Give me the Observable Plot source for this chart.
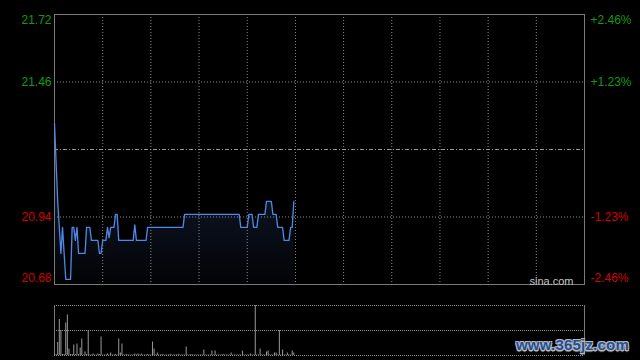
<!DOCTYPE html>
<html><head><meta charset="utf-8">
<script src="https://cdn.jsdelivr.net/npm/d3@7"></script>
<script src="https://cdn.jsdelivr.net/npm/@observablehq/plot@0.6"></script>
<style>
html,body{margin:0;padding:0;background:#000;}
#chart{position:relative;width:640px;height:360px;background:#000;overflow:hidden;font-family:"Liberation Sans",Arial,sans-serif;}
#chart svg{position:absolute;left:0;display:block;}
#wm{position:absolute;left:516px;top:336px;font:bold 15px "Liberation Sans",Arial,sans-serif;color:#1d4f9c;letter-spacing:0.2px;
  text-shadow:-1px -1px 0 #b8b8b8,1px -1px 0 #b8b8b8,-1px 1px 0 #b8b8b8,1px 1px 0 #b8b8b8,0 2px 1px #888;white-space:nowrap;}
</style></head>
<body><div id="chart"><div id="wm">www.365jz.com</div></div>
<script>
// ---- data ----
const prevClose = 21.20;
const priceTicks = [21.72, 21.46, 21.20, 20.94, 20.68];
const pctLabels = ["+2.46%", "+1.23%", "0.00%", "-1.23%", "-2.46%"];
const sessionMinutes = 330;
const gridMinutes = [30, 60, 90, 120, 150, 180, 210, 240, 270, 300];
const watermark = "sina.com";
// one price per minute from the open
const prices = [
  21.30,21.15,21.00,20.90,20.80,20.90,20.80,20.70,20.70,20.70,
  20.70,20.90,20.90,20.85,20.90,20.80,20.80,20.80,20.80,20.80,
  20.90,20.90,20.90,20.85,20.85,20.85,20.85,20.85,20.80,20.80,
  20.85,20.85,20.85,20.90,20.86,20.90,20.90,20.90,20.95,20.95,
  20.85,20.85,20.85,20.85,20.85,20.85,20.85,20.85,20.85,20.85,
  20.91,20.85,20.85,20.85,20.85,20.85,20.85,20.85,20.90,20.90,
  20.90,20.90,20.90,20.90,20.90,20.90,20.90,20.90,20.90,20.90,
  20.90,20.90,20.90,20.90,20.90,20.90,20.90,20.90,20.90,20.90,
  20.90,20.95,20.95,20.95,20.95,20.95,20.95,20.95,20.95,20.95,
  20.95,20.95,20.95,20.95,20.95,20.95,20.95,20.95,20.95,20.95,
  20.95,20.95,20.95,20.95,20.95,20.95,20.95,20.95,20.95,20.95,
  20.95,20.95,20.95,20.95,20.95,20.95,20.90,20.90,20.90,20.90,
  20.90,20.95,20.95,20.95,20.90,20.90,20.90,20.95,20.95,20.95,
  20.95,20.95,21.00,21.00,21.00,21.00,20.95,20.95,20.95,20.90,
  20.90,20.90,20.90,20.85,20.85,20.85,20.85,20.90,20.90,21.00
];
const volumes = [
  60,20,260,720,500,20,20,650,810,130,
  20,20,210,20,230,20,150,330,10,70,
  20,500,10,10,30,10,10,30,20,370,
  10,10,10,30,10,50,10,10,20,10,
  330,50,230,10,10,20,10,10,10,10,
  30,10,30,10,30,10,10,10,20,10,
  10,270,130,10,50,10,10,20,10,10,
  10,10,20,10,10,10,10,20,10,10,
  10,10,170,10,10,20,10,10,10,10,
  10,10,10,110,10,10,10,10,90,10,
  90,10,10,10,10,20,10,10,10,10,
  50,10,10,10,10,10,10,90,10,10,
  10,10,30,10,10,1000,10,10,130,10,
  10,10,70,90,10,10,10,50,50,10,
  500,10,110,10,10,50,10,10,90,50
];
const volTicks = [0, 500, 1000];

// ---- build ----
const rows = prices.map((p, i) => ({m: i, p, v: volumes[i]}));
const yMax = priceTicks[0], yMin = priceTicks[priceTicks.length - 1];
const labels = priceTicks.map((v, i) => ({v, pct: pctLabels[i], c: v > prevClose ? "#109a10" : "#d40000"}));
const topLabels = labels.filter(d => d.v === yMax);
const bottomLabels = labels.filter(d => d.v === yMin);
const innerLabels = labels.filter(d => d.v !== yMax && d.v !== yMin && d.v !== prevClose);
const font = "'Liberation Sans', Arial, sans-serif";

function tickText(data, dy) {
  return [
    Plot.text(data, {y: "v", text: d => d.v.toFixed(2), fill: "c", frameAnchor: "left", textAnchor: "end", dx: -3, dy, fontSize: 12}),
    Plot.text(data, {y: "v", text: "pct", fill: "c", frameAnchor: "right", textAnchor: "start", dx: 6, dy, fontSize: 12})
  ];
}

const pricePlot = Plot.plot({
  width: 640, height: 290,
  marginLeft: 54, marginRight: 56, marginTop: 14, marginBottom: 6,
  style: {background: "transparent", fontFamily: font, overflow: "visible"},
  color: {type: "identity"},
  x: {domain: [0, sessionMinutes], axis: null},
  y: {domain: [yMin, yMax], axis: null},
  marks: [
    Plot.areaY(rows, {x: "m", y1: () => yMin, y2: "p", fill: "url(#pgrad)"}),
    Plot.ruleX(gridMinutes, {stroke: "#8c8c8c", strokeDasharray: "1,2"}),
    Plot.ruleY(innerLabels.map(d => d.v), {stroke: "#8c8c8c", strokeDasharray: "1,2"}),
    Plot.ruleY([prevClose], {stroke: "#9a9a9a", strokeDasharray: "4,2,1,2"}),
    Plot.frame({stroke: "#7a7a7a"}),
    Plot.lineY(rows, {x: "m", y: "p", stroke: "#4f88e6", strokeWidth: 1.3}),
    ...tickText(innerLabels, 0),
    ...tickText(topLabels, 6),
    ...tickText(bottomLabels, -6),
    Plot.text([watermark], {frameAnchor: "bottom-right", textAnchor: "end", lineAnchor: "bottom", dx: -11, dy: 0, fill: "#c4c4c4", fontSize: 11})
  ]
});

const volPlot = Plot.plot({
  width: 640, height: 70,
  marginLeft: 54, marginRight: 56, marginTop: 15, marginBottom: 5,
  style: {background: "transparent", fontFamily: font, overflow: "visible"},
  x: {domain: [0, sessionMinutes], axis: null},
  y: {domain: [volTicks[0], volTicks[volTicks.length - 1]], axis: null},
  marks: [
    Plot.ruleY(volTicks, {stroke: "#8c8c8c", strokeDasharray: "1,1"}),
    Plot.ruleX(rows, {x: "m", y1: 0, y2: "v", stroke: "#9a9a9a", strokeWidth: 1}),
    Plot.ruleX([0, sessionMinutes], {stroke: "#7a7a7a"})
  ]
});

// gradient under the price line
const ys = pricePlot.scale("y");
const defs = d3.select(pricePlot).insert("defs", ":first-child");
const grad = defs.append("linearGradient").attr("id", "pgrad").attr("gradientUnits", "userSpaceOnUse")
  .attr("x1", 0).attr("x2", 0).attr("y1", ys.apply(d3.max(prices))).attr("y2", ys.apply(yMin));
grad.append("stop").attr("offset", 0).attr("stop-color", "#16223e");
grad.append("stop").attr("offset", 1).attr("stop-color", "#020305");

const chart = document.getElementById("chart");
pricePlot.style.top = "0px";
volPlot.style.top = "290px";
chart.insertBefore(volPlot, chart.firstChild);
chart.insertBefore(pricePlot, chart.firstChild);
</script>
</body></html>
